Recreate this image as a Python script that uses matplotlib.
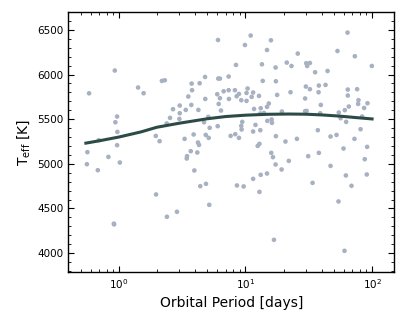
import matplotlib
matplotlib.use("Agg")
import matplotlib.pyplot as plt
from matplotlib.ticker import MultipleLocator, LogLocator, NullFormatter

# orbital period [days] and effective temperature [K] of each star
period = [
    0.583, 0.930, 1.42, 1.57, 2.19, 2.31, 0.970, 0.940, 0.975, 0.970,
    0.695, 1.96, 2.10, 2.39, 2.54, 2.68, 3.03, 3.03, 3.01, 3.38,
    3.54, 3.74, 3.76, 3.79, 4.25, 4.35, 3.31, 3.90, 4.22, 4.30,
    4.80, 4.82, 4.71, 4.86, 5.13, 5.09, 5.22, 6.07, 6.10, 6.29,
    5.99, 6.29, 6.15, 6.41, 6.04, 6.73, 7.37, 7.37, 7.41, 7.64,
    8.42, 8.26, 8.53, 8.89, 8.31, 8.89, 11.0, 9.91, 15.9, 14.8,
    25.9, 64.0, 53.3, 73.1, 99.5, 13.5, 17.3, 21.2, 23.1, 30.2,
    30.7, 32.3, 35.5, 44.5, 13.7, 17.4, 30.0, 32.3, 38.0, 42.9,
    22.7, 37.8, 64.3, 76.2, 64.3, 9.27, 10.2, 10.2, 10.4, 11.2,
    11.5, 12.8, 11.7, 13.2, 13.1, 14.0, 14.8, 15.3, 17.8, 19.4,
    29.6, 29.6, 30.4, 39.4, 38.9, 54.6, 60.9, 65.5, 78.1, 77.6,
    86.5, 92.0, 83.4, 62.4, 14.9, 16.1, 16.2, 9.44, 9.27, 9.33,
    12.0, 11.5, 13.1, 17.4, 20.7, 25.5, 37.3, 47.0, 52.4, 72.6,
    81.1, 91.4, 59.5, 12.5, 12.9, 0.565, 0.560, 0.683, 0.828, 1.02,
    0.918, 0.915, 1.97, 2.40, 2.88, 3.70, 3.46, 3.44, 4.17, 3.95,
    4.88, 4.40, 5.18, 8.57, 16.0, 16.5, 17.3, 19.3, 22.0, 31.3,
    38.0, 47.0, 87.5, 11.5, 13.2, 14.8, 9.68, 12.9, 33.9, 62.1,
    90.8, 68.8, 54.3, 16.8, 60.6, 56.4,
]
teff = [
    5790, 6045, 5855, 5791, 5929, 5936, 5530, 5466, 5358, 5209,
    5265, 5313, 5254, 5452, 5515, 5612, 5653, 5567, 5503, 5604,
    5754, 5660, 5899, 5825, 5604, 5903, 5280, 5329, 5239, 5212,
    5973, 5727, 5466, 5324, 5291, 5526, 5403, 6387, 5955, 5955,
    5780, 5735, 5671, 5597, 5422, 5813, 5978, 5825, 5727, 5313,
    6108, 5825, 5757, 5783, 5332, 5291, 6437, 6331, 6384, 6275,
    6235, 6470, 6264, 6205, 6096, 6115, 6079, 6134, 6096, 6127,
    6096, 6130, 6026, 6040, 5929, 5925, 5866, 5836, 5877, 5884,
    5802, 5802, 5832, 5836, 5765, 5713, 5705, 5794, 5844, 5750,
    5799, 5761, 5615, 5623, 5564, 5570, 5638, 5676, 5772, 5586,
    5732, 5590, 5593, 5660, 5567, 5575, 5601, 5642, 5713, 5671,
    5626, 5679, 5530, 5470, 5481, 5497, 5459, 5470, 5425, 5385,
    5436, 5362, 5377, 5310, 5250, 5280, 5377, 5306, 5324, 5280,
    5388, 5190, 5172, 5201, 5224, 5131, 4996, 4929, 5078, 5015,
    4322, 4330, 4657, 4407, 4463, 5142, 5086, 5060, 5127, 4926,
    4776, 4750, 4541, 4758, 5123, 5075, 4993, 4937, 5033, 5086,
    5123, 4977, 5052, 4832, 4877, 4892, 4747, 4686, 4787, 4870,
    4881, 4754, 4579, 4149, 4026, 5511,
]

# trend curve
trend_period = [0.55, 0.7, 1.0, 1.5, 2.0, 3.0, 5.0, 7.0, 10, 15, 22, 30, 40, 55, 75, 100]
trend_teff = [5232, 5258, 5300, 5358, 5410, 5455, 5505, 5530, 5545, 5555,
              5558, 5556, 5548, 5535, 5518, 5503]

fig = plt.figure(figsize=(4.07, 3.26), dpi=100)
ax = fig.add_axes([0.168, 0.166, 0.801, 0.797])

ax.scatter(period, teff, s=11, color='#a7b1c1', edgecolors='none', zorder=2)
ax.plot(trend_period, trend_teff, color='#2c4b47', lw=2.2, zorder=3)

ax.set_xscale('log')
ax.set_xlim(0.4, 150)
ax.set_ylim(3790, 6700)
ax.yaxis.set_major_locator(MultipleLocator(500))
ax.yaxis.set_minor_locator(MultipleLocator(100))
ax.xaxis.set_minor_locator(LogLocator(base=10, subs=range(2, 10)))
ax.xaxis.set_minor_formatter(NullFormatter())

ax.tick_params(which='both', direction='in', top=True, right=True, labelsize=7.5)
ax.tick_params(which='major', length=4, width=0.8)
ax.tick_params(which='minor', length=2, width=0.6)
for s in ax.spines.values():
    s.set_linewidth(1.0)

ax.set_xlabel("Orbital Period [days]", fontsize=10)
ax.set_ylabel(r"T$_{\rm eff}$ [K]", fontsize=10)

fig.savefig("out.png", dpi=100)
plt.close(fig)
